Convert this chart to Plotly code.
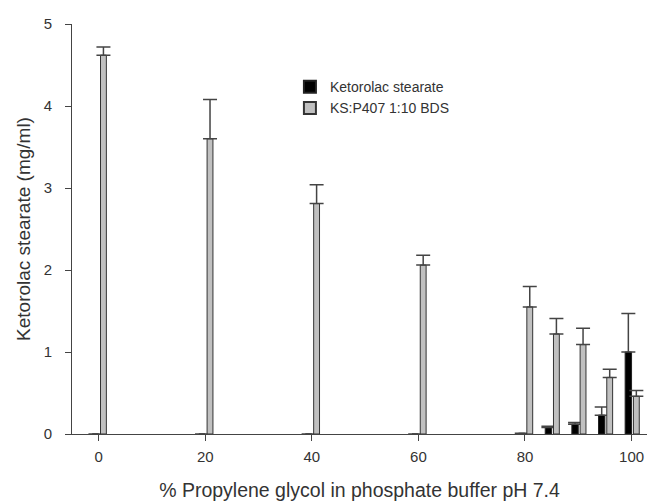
import plotly.graph_objects as go

pg_percent = [0, 20, 40, 60, 80, 85, 90, 95, 100]
ks_values = [0, 0, 0, 0, 0.01, 0.08, 0.12, 0.23, 1.0]
ks_err = [0, 0, 0, 0, 0.0, 0.015, 0.02, 0.10, 0.47]
bds_values = [4.62, 3.60, 2.81, 2.06, 1.55, 1.22, 1.09, 0.69, 0.46]
bds_err = [0.10, 0.48, 0.23, 0.12, 0.25, 0.19, 0.20, 0.10, 0.07]
x_ticks = [0, 20, 40, 60, 80, 100]

axis_col = "#444444"
text_col = "#333333"

fig = go.Figure()
fig.add_trace(go.Bar(
    x=pg_percent, y=ks_values, name="Ketorolac stearate",
    width=1.2, offset=-1.2,
    marker=dict(color="#000000", line=dict(color="#222222", width=1)),
    error_y=dict(type="data", symmetric=False, array=ks_err,
                 arrayminus=[0] * len(ks_err), color=axis_col,
                 thickness=1.5, width=7),
))
fig.add_trace(go.Bar(
    x=pg_percent, y=bds_values, name="KS:P407 1:10 BDS",
    width=1.1, offset=0.35,
    marker=dict(color="#c0c0c0", line=dict(color="#333333", width=1)),
    error_y=dict(type="data", symmetric=False, array=bds_err,
                 arrayminus=[0] * len(bds_err), color=axis_col,
                 thickness=1.5, width=7),
))

fig.update_layout(
    width=647, height=501,
    barmode="overlay",
    paper_bgcolor="white", plot_bgcolor="white",
    margin=dict(l=72, r=0, t=24, b=67),
    font=dict(family="Liberation Sans, Arial, sans-serif", size=15, color=text_col),
    showlegend=True,
    legend=dict(x=0.379, y=0.885, xanchor="left", yanchor="top",
                bgcolor="rgba(0,0,0,0)", font=dict(size=14, color=text_col),
                tracegroupgap=0, itemsizing="constant"),
)
fig.update_xaxes(
    range=[-5, 102.9], tickvals=x_ticks, ticks="outside", ticklen=6,
    tickcolor=axis_col, showline=True, linecolor=axis_col, linewidth=1,
    showgrid=False, zeroline=False, tickfont=dict(size=15),
    automargin=False, ticklabelstandoff=3,
    title=dict(text="% Propylene glycol in phosphate buffer pH 7.4",
               font=dict(size=19.5), standoff=22),
)
fig.update_yaxes(
    range=[0, 5], tickvals=[0, 1, 2, 3, 4, 5], ticks="outside", ticklen=6,
    tickcolor=axis_col, showline=True, linecolor=axis_col, linewidth=1,
    showgrid=False, zeroline=False, tickfont=dict(size=15),
    automargin=False, ticklabelstandoff=10,
    title=dict(text="Ketorolac stearate (mg/ml)", font=dict(size=19), standoff=8),
)

fig.write_html(
    "out.html",
    config={"displayModeBar": False},
    post_script="document.body.style.margin='0';document.body.style.overflow='hidden';",
)
